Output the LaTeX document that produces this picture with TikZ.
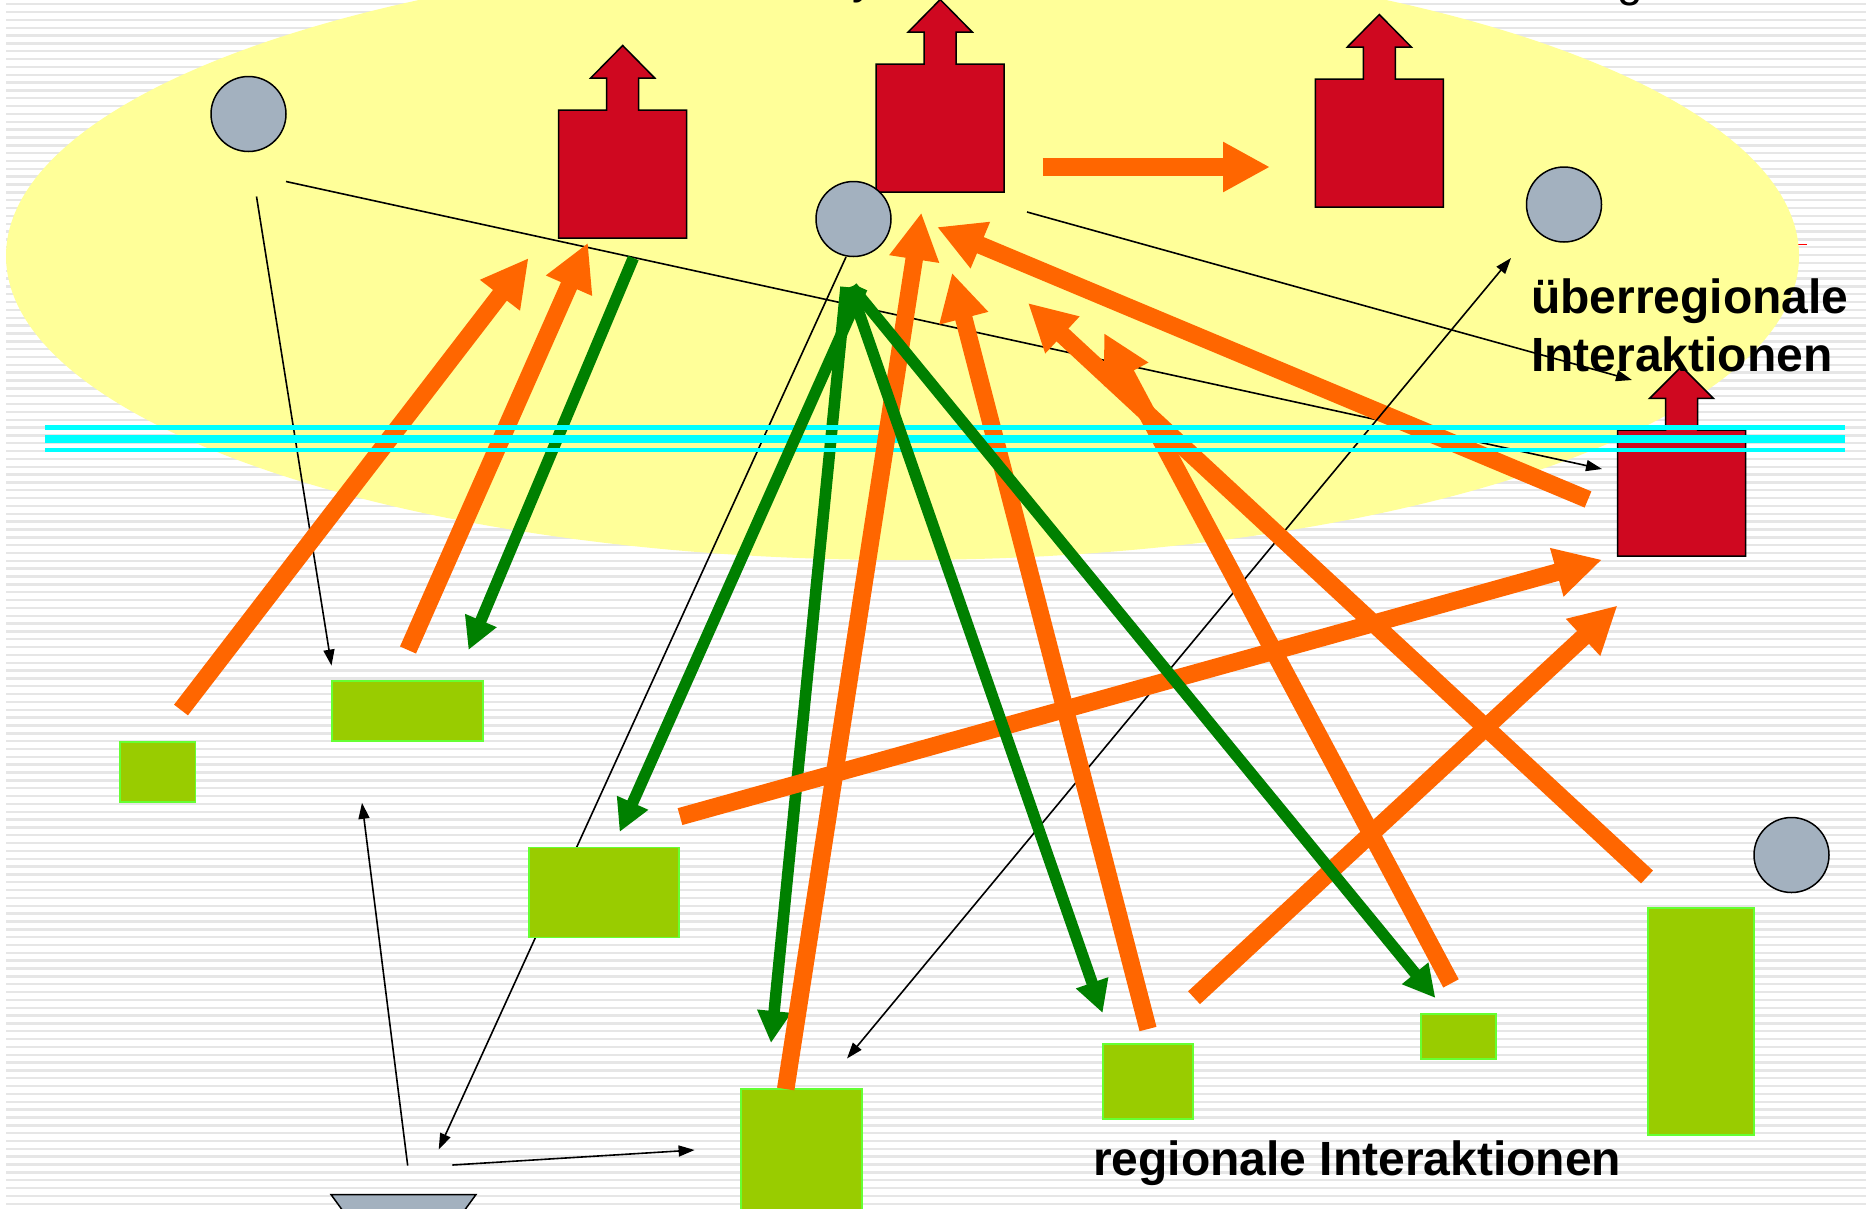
\documentclass[tikz,border=0pt]{standalone}
\usepackage{fontspec}
\setmainfont{Liberation Sans}
\usetikzlibrary{arrows.meta}
\definecolor{bgstripe}{HTML}{E6E6E6}
\definecolor{ellipsefill}{HTML}{FFFF99}
\definecolor{redfill}{HTML}{CF0820}
\definecolor{greyfill}{HTML}{A3B1BF}
\definecolor{boxfill}{HTML}{99CC00}
\definecolor{boxline}{HTML}{66FF33}
\definecolor{orangeline}{HTML}{FF6600}
\definecolor{greenline}{HTML}{008000}
\definecolor{cyanline}{HTML}{00FFFF}
\tikzset{
  x=1pt,y=-1pt,
  orangearrow/.style={draw=orangeline,line width=17.5pt,-{Triangle[width=47pt,length=47pt]}},
  greenarrow/.style={draw=greenline,line width=11.5pt,-{Triangle[width=32pt,length=32pt]}},
  thinarrow/.style={draw=black,line width=1.6pt,-{Triangle[width=11pt,length=16pt]}},
  thinboth/.style={draw=black,line width=1.6pt,{Triangle[width=11pt,length=16pt]}-{Triangle[width=11pt,length=16pt]}},
  greydot/.style={circle,draw=black,line width=1.5pt,fill=greyfill,minimum size=75pt,inner sep=0pt},
  greenbox/.style={rectangle,draw=boxline,line width=1.8pt,fill=boxfill,inner sep=0pt},
  cyanbar/.style={fill=cyanline},
  redhouse/.pic={\draw[draw=black,line width=1.5pt,fill=redfill,line join=miter]
     (-64,0)--(-16,0)--(-16,-32)--(-32,-32)--(0,-64.5)--(32,-32)--(16,-32)--(16,0)--(64,0)--(64,128)--(-64,128)--cycle;},
  label/.style={font=\fontsize{48}{57}\selectfont\bfseries,text=black,inner sep=0pt,align=left},
  cuttext/.style={font=\fontsize{46}{55}\selectfont,text=black,inner sep=0pt,anchor=base}
}
\begin{document}
\begin{tikzpicture}
\useasboundingbox (0,0) rectangle (1866,1208);
\clip (0,0) rectangle (1866,1208);
\fill[white] (0,0) rectangle (1866,1208);
% background stripes
\foreach \k in {0,...,154}{
  \fill[bgstripe] (6,{3+7.84*\k}) rectangle (1866,{5.4+7.84*\k});
}
% red dash and ellipse
\draw[red,line width=1pt] (1795,244) -- (1807,244);
\fill[ellipsefill] (902.5,256) ellipse [x radius=896.5,y radius=304];
% houses
\pic at (622.7,110) {redhouse};
\pic at (940.2,64) {redhouse};
\pic at (1379.3,79) {redhouse};
\pic[yscale=0.985] at (1681.5,430) {redhouse};
% grey dots
\node[greydot] (dotA) at (248.5,114) {};
\node[greydot] (dotB) at (853.5,219) {};
\node[greydot] (dotC) at (1564,204.5) {};
\node[greydot] (dotD) at (1791.5,855) {};
% grey trapezoid
\draw[draw=black,line width=1.5pt,fill=greyfill] (331,1194.5) -- (476,1194.5) -- (456,1222) -- (351,1222) -- cycle;
% connector ends
\coordinate (t1a) at (256.5,196.5);  \coordinate (t1b) at (331.5,665.6);
\coordinate (t2a) at (286,181.5);    \coordinate (t2b) at (1602,469);
\coordinate (t3a) at (846,257);      \coordinate (t3b) at (438.7,1149.5);
\coordinate (t4a) at (407.7,1165.6); \coordinate (t4b) at (362,802.8);
\coordinate (t5a) at (452.4,1165);   \coordinate (t5b) at (694.6,1150);
\coordinate (t6a) at (1511,258);     \coordinate (t6b) at (847,1058.5);
\coordinate (t7a) at (1027,212);     \coordinate (t7b) at (1632,380);
\coordinate (o1a) at (181,710);      \coordinate (o1b) at (528.6,258);
\coordinate (o2a) at (408,650);      \coordinate (o2b) at (588,242.7);
\coordinate (o3a) at (1588,499.5);   \coordinate (o3b) at (937,227);
\coordinate (o4a) at (785.7,1089);   \coordinate (o4b) at (921.4,212.6);
\coordinate (o5a) at (1148,1029);    \coordinate (o5b) at (952,272.7);
\coordinate (o6a) at (1647,877);     \coordinate (o6b) at (1028,303);
\coordinate (o7a) at (1451,983.4);   \coordinate (o7b) at (1104,333);
\coordinate (o8a) at (680,816.6);    \coordinate (o8b) at (1602,559.7);
\coordinate (o9a) at (1194,997.7);   \coordinate (o9b) at (1617.5,605.5);
\coordinate (o10a) at (1042.5,167);  \coordinate (o10b) at (1270,167);
\coordinate (g1a) at (633.3,258);    \coordinate (g1b) at (468.5,650);
\coordinate (g2a) at (862,288);      \coordinate (g2b) at (619.6,832);
\coordinate (g3a) at (846,287);      \coordinate (g3b) at (771,1043);
\coordinate (g4a) at (850,287);      \coordinate (g4b) at (1102.6,1013);
\coordinate (g5a) at (852,287);      \coordinate (g5b) at (1435.4,998);
% thin connectors, below the boxes
\draw[thinarrow] (t1a) -- (t1b);
\draw[thinarrow] (t2a) -- (t2b);
\draw[thinarrow] (t3a) -- (t3b);
\draw[thinarrow] (t4a) -- (t4b);
\draw[thinarrow] (t5a) -- (t5b);
\draw[thinarrow] (t7a) -- (t7b);
% green boxes
\node[greenbox,minimum width=151.5pt,minimum height=60.5pt] (boxA) at (407.5,711) {};
\node[greenbox,minimum width=75.5pt,minimum height=60.5pt] (boxB) at (157.7,772) {};
\node[greenbox,minimum width=150pt,minimum height=90pt] (boxC) at (604.3,892.4) {};
\node[greenbox,minimum width=121pt,minimum height=180pt] (boxD) at (801.2,1179) {};
\node[greenbox,minimum width=90pt,minimum height=75.5pt] (boxE) at (1148.3,1081.5) {};
\node[greenbox,minimum width=75pt,minimum height=45.5pt] (boxF) at (1458.8,1036.5) {};
\node[greenbox,minimum width=106pt,minimum height=226.5pt] (boxG) at (1700.7,1021.5) {};
% arrows under the cyan bars
\draw[greenarrow] (g1a) -- (g1b);
\draw[greenarrow] (g3a) -- (g3b);
\draw[orangearrow] (o1a) -- (o1b);
\draw[orangearrow] (o2a) -- (o2b);
\draw[orangearrow] (o3a) -- (o3b);
\draw[thinboth] (t6a) -- (t6b);
\draw[orangearrow] (o5a) -- (o5b);
\draw[orangearrow] (o6a) -- (o6b);
\draw[orangearrow] (o7a) -- (o7b);
% cyan bars
\fill[cyanbar] (44.6,425) rectangle (1845,430);
\fill[cyanbar] (44.6,434.5) rectangle (1845,443);
\fill[cyanbar] (44.6,447.6) rectangle (1845,452);
% arrows above the cyan bars
\draw[orangearrow] (o4a) -- (o4b);
\draw[orangearrow] (o8a) -- (o8b);
\draw[orangearrow] (o9a) -- (o9b);
\draw[orangearrow] (o10a) -- (o10b);
\draw[greenarrow] (g2a) -- (g2b);
\draw[greenarrow] (g4a) -- (g4b);
\draw[greenarrow] (g5a) -- (g5b);
% texts
\node[label,anchor=base west] (lblA) at (1531,313) {überregionale};
\node[label,anchor=base west] (lblB) at (1531,371.7) {Interaktionen};
\node[label,anchor=base west] (lblC) at (1093,1175) {regionale Interaktionen};
\node[cuttext] (cutY) at (864,-6.5) {y};
\node[cuttext] (cutG) at (1630,-4) {g};
\end{tikzpicture}
\end{document}
